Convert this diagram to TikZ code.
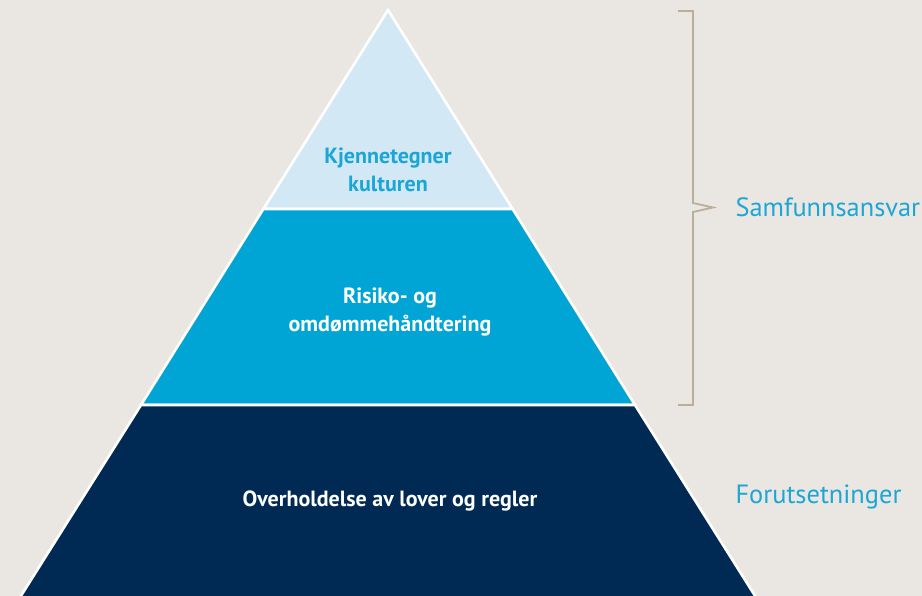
\documentclass[tikz,border=0pt]{standalone}
\usepackage{fontspec}
\setmainfont{PT Sans}
\usepackage{tikz}
\usetikzlibrary{positioning}

\definecolor{paper}{HTML}{EAE7E2}
\definecolor{palesky}{HTML}{D2E8F5}
\definecolor{midsky}{HTML}{00A4D5}
\definecolor{navy}{HTML}{002A54}
\definecolor{sidetext}{HTML}{1BA6D6}
\definecolor{bracketc}{HTML}{BBAF9B}

\begin{document}
\begin{tikzpicture}[x=1pt,y=-1pt,line join=miter,
                    band/.style={draw=white,line width=2.6pt},
                    inner/.style={align=center,font=\bfseries\fontsize{22}{28}\selectfont},
                    side/.style={anchor=west,text=sidetext,font=\fontsize{26.4}{30}\selectfont}]
  \tikzstyle{bracket}=[draw=bracketc,line width=1.8pt]

  \fill[paper] (0,0) rectangle (922,596);
  \useasboundingbox (0,0) rectangle (922,596);

  % corners of the pyramid
  \coordinate (apex) at (388,10);
  \coordinate (tl) at (263.4,209);
  \coordinate (tr) at (512.6,209);
  \coordinate (ml) at (141,405);
  \coordinate (mr) at (635,405);
  \coordinate (bl) at (14.6,606);
  \coordinate (br) at (761.4,606);

  \path[band,fill=palesky] (apex) -- (tr) -- (tl) -- cycle;
  \path[band,fill=midsky]  (tl) -- (tr) -- (mr) -- (ml) -- cycle;
  \path[band,fill=navy]    (ml) -- (mr) -- (br) -- (bl) -- cycle;

  \node[inner,text=sidetext] (kultur) at (388,170) {Kjennetegner\\kulturen};
  \node[inner,text=white]    (risiko) at (390,312) {Risiko- og\\omdømmehåndtering};
  \node[inner,text=white]    (lover)  at (390,501) {Overholdelse av lover og regler};

  % brace on the right
  \coordinate (b1) at (678,11);
  \coordinate (b2) at (693,11);
  \coordinate (b3) at (693,203);
  \coordinate (tip) at (713,207.5);
  \coordinate (b4) at (693,212);
  \coordinate (b5) at (693,405);
  \coordinate (b6) at (678,405);
  \path[bracket] (b1) -- (b2) -- (b3) -- (tip) -- (b4) -- (b5) -- (b6);

  \node[side] (ansvar) at (732,207) {Samfunnsansvar};
  \node[side] (forut)  at (732,497) {Forutsetninger};
\end{tikzpicture}
\end{document}
